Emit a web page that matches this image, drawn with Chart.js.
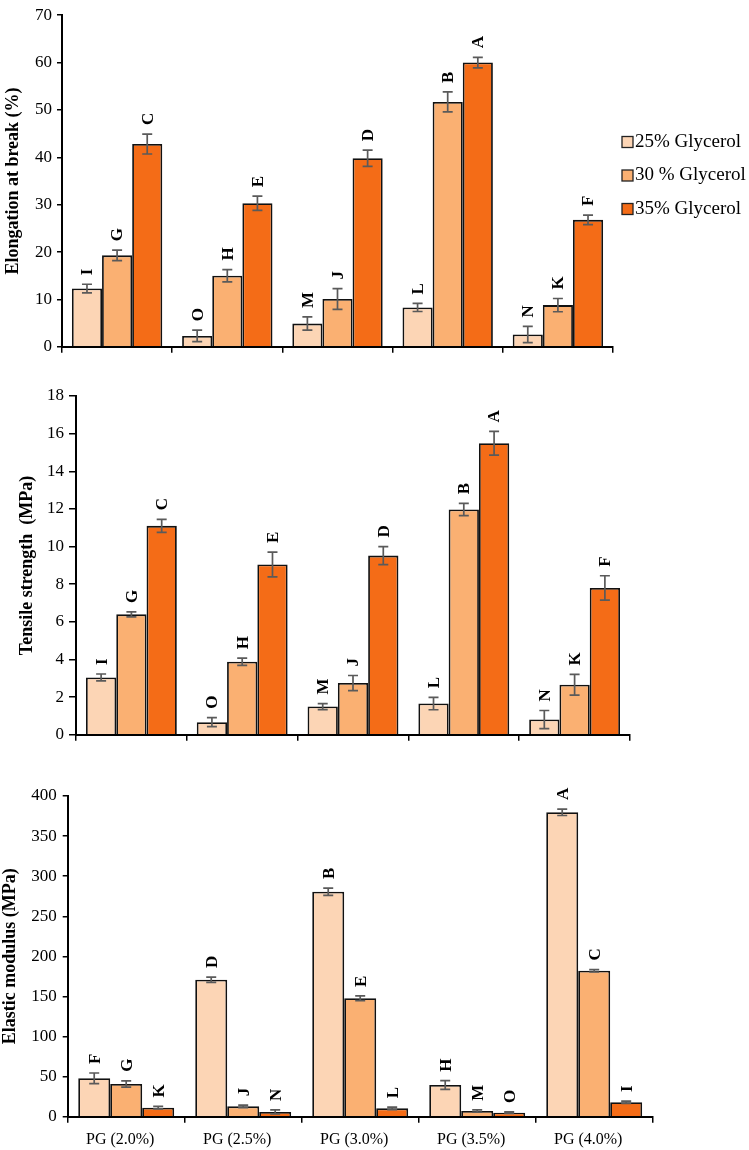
<!DOCTYPE html>
<html>
<head>
<meta charset="utf-8">
<script src="https://cdn.jsdelivr.net/npm/chart.js@4.4.1/dist/chart.umd.min.js"></script>
<style>
  body { margin: 0; background: #fff; }
  #wrap { position: relative; width: 749px; height: 1150px; }
  canvas { position: absolute; left: 0; }
</style>
</head>
<body>
<div id="wrap">
  <canvas id="grafico-elongacao" width="749" height="362" style="top:0"></canvas>
  <canvas id="grafico-tensao" width="749" height="390" style="top:360px"></canvas>
  <canvas id="grafico-modulo" width="749" height="400" style="top:750px"></canvas>
</div>
<script>
const categorias = ['PG (2.0%)', 'PG (2.5%)', 'PG (3.0%)', 'PG (3.5%)', 'PG (4.0%)'];
const series = ['25% Glycerol', '30 % Glycerol', '35% Glycerol'];
const cores = ['#FCD5B5', '#FAB072', '#F46C17'];

// Elongation at break (%)
const elong25 = [12.3, 2.3, 4.9, 8.3, 2.6];
const elong30 = [19.3, 15.0, 10.1, 51.7, 8.8];
const elong35 = [42.8, 30.3, 39.8, 60.0, 26.8];
const elongErr25 = [0.9, 1.2, 1.4, 0.85, 1.7];
const elongErr30 = [1.1, 1.3, 2.2, 2.1, 1.4];
const elongErr35 = [2.1, 1.5, 1.7, 1.1, 1.0];
const elongLetras25 = ['I', 'O', 'M', 'L', 'N'];
const elongLetras30 = ['G', 'H', 'J', 'B', 'K'];
const elongLetras35 = ['C', 'E', 'D', 'A', 'F'];

// Tensile strength (MPa)
const tensao25 = [3.05, 0.67, 1.5, 1.66, 0.81];
const tensao30 = [6.4, 3.88, 2.75, 11.97, 2.66];
const tensao35 = [11.1, 9.05, 9.52, 15.49, 7.8];
const tensaoErr25 = [0.18, 0.24, 0.16, 0.33, 0.48];
const tensaoErr30 = [0.13, 0.19, 0.4, 0.33, 0.55];
const tensaoErr35 = [0.35, 0.66, 0.48, 0.63, 0.65];
const tensaoLetras25 = ['I', 'O', 'M', 'L', 'N'];
const tensaoLetras30 = ['G', 'H', 'J', 'B', 'K'];
const tensaoLetras35 = ['C', 'E', 'D', 'A', 'F'];

// Elastic modulus (MPa)
const modulo25 = [47.9, 170.9, 280.6, 39.5, 379.7];
const modulo30 = [40.8, 12.9, 147.7, 7.1, 182];
const modulo35 = [11.3, 5.9, 10.4, 5.0, 18];
const moduloErr25 = [6.6, 3.3, 4.6, 5.4, 4];
const moduloErr30 = [4, 1.5, 3, 1.5, 1.5];
const moduloErr35 = [1.5, 2.5, 1.5, 1, 1.5];
const moduloLetras25 = ['F', 'D', 'B', 'H', 'A'];
const moduloLetras30 = ['G', 'J', 'E', 'M', 'C'];
const moduloLetras35 = ['K', 'N', 'L', 'O', 'I'];

const fonte = '"Liberation Serif", "Times New Roman", serif';
Chart.defaults.font.family = fonte;
Chart.defaults.color = '#000';

// barras de erro + letras giradas
const pluginErros = {
    id: 'erros',
    afterDatasetsDraw(chart) {
        const ctx = chart.ctx;
        const y = chart.scales.y;
        chart.data.datasets.forEach((ds, i) => {
            chart.getDatasetMeta(i).data.forEach((barra, j) => {
                const topo = y.getPixelForValue(ds.data[j] + ds.erros[j]);
                const base = y.getPixelForValue(ds.data[j] - ds.erros[j]);
                ctx.save();
                ctx.strokeStyle = '#5a5a5a';
                ctx.lineWidth = 1.7;
                ctx.beginPath();
                ctx.moveTo(barra.x, topo); ctx.lineTo(barra.x, base);
                ctx.moveTo(barra.x - 5, topo); ctx.lineTo(barra.x + 5, topo);
                ctx.moveTo(barra.x - 5, base); ctx.lineTo(barra.x + 5, base);
                ctx.stroke();
                ctx.translate(barra.x + 1, topo - 9);
                ctx.rotate(-Math.PI / 2);
                ctx.font = 'bold 17px ' + fonte;
                ctx.fillStyle = '#000';
                ctx.textAlign = 'left';
                ctx.textBaseline = 'middle';
                ctx.fillText(ds.letras[j], 0, 0);
                ctx.restore();
            });
        });
    }
};

const pluginLegenda = {
    id: 'legendaLateral',
    afterDraw(chart, args, opts) {
        if (!opts.mostrar) return;
        const ctx = chart.ctx;
        ctx.save();
        ctx.font = '19px ' + fonte;
        ctx.textBaseline = 'middle';
        chart.data.datasets.forEach((ds, i) => {
            const yc = opts.topo + i * opts.espaco;
            ctx.fillStyle = ds.backgroundColor;
            ctx.fillRect(opts.esquerda, yc - 5.5, 11, 11);
            ctx.strokeStyle = '#222';
            ctx.lineWidth = 1.3;
            ctx.strokeRect(opts.esquerda, yc - 5.5, 11, 11);
            ctx.fillStyle = '#000';
            ctx.fillText(ds.label, opts.esquerda + 13, yc);
        });
        ctx.restore();
    }
};

function gerarDatasets(valores, erros, letras) {
    return series.map((nome, i) => ({
        label: nome,
        data: valores[i],
        erros: erros[i],
        letras: letras[i],
        backgroundColor: cores[i],
        borderColor: '#111',
        borderWidth: 1.8,
        categoryPercentage: 0.82,
        barPercentage: 1.0
    }));
}

function criarGrafico(id, cfg) {
    return new Chart(document.getElementById(id), {
        type: 'bar',
        data: {
            labels: categorias,
            datasets: gerarDatasets(cfg.valores, cfg.erros, cfg.letras)
        },
        options: {
            responsive: false,
            animation: false,
            layout: { padding: { left: 0, right: cfg.direita, top: cfg.topo, bottom: 0 } },
            plugins: {
                legend: { display: false },
                tooltip: { enabled: false },
                legendaLateral: { mostrar: !!cfg.legenda, esquerda: 622, topo: 142, espaco: 33.5 }
            },
            scales: {
                x: {
                    grid: { display: true, offset: true, drawOnChartArea: false, color: '#000', lineWidth: 1.5, tickLength: 6 },
                    border: { color: '#000', width: 2 },
                    ticks: { display: cfg.rotulosX, font: { size: 16 }, padding: 7, maxRotation: 0, labelOffset: -6 },
                    afterFit: (s) => { s.height = cfg.alturaX; }
                },
                y: {
                    min: 0,
                    max: cfg.max,
                    grid: { drawOnChartArea: false, color: '#000', lineWidth: 1.5, tickLength: cfg.tickY },
                    border: { color: '#000', width: 2 },
                    ticks: { stepSize: cfg.passo, font: { size: 17 }, padding: cfg.padY },
                    title: {
                        display: true,
                        text: cfg.titulo,
                        font: { size: 18, weight: 'bold' },
                        padding: { top: cfg.padTitulo, bottom: 0 }
                    },
                    afterFit: (s) => { s.width = cfg.larguraY; }
                }
            }
        },
        plugins: [pluginErros, pluginLegenda]
    });
}

criarGrafico('grafico-elongacao', {
    valores: [elong25, elong30, elong35],
    erros: [elongErr25, elongErr30, elongErr35],
    letras: [elongLetras25, elongLetras30, elongLetras35],
    titulo: 'Elongation at break (%)',
    max: 70, passo: 10,
    topo: 9.5, direita: 136, larguraY: 62, alturaX: 11.3,
    tickY: 5, padY: 5, padTitulo: 2.7,
    rotulosX: false, legenda: true
});

criarGrafico('grafico-tensao', {
    valores: [tensao25, tensao30, tensao35],
    erros: [tensaoErr25, tensaoErr30, tensaoErr35],
    letras: [tensaoLetras25, tensaoLetras30, tensaoLetras35],
    titulo: 'Tensile strength  (MPa)',
    max: 18, passo: 2,
    topo: 36, direita: 119, larguraY: 76, alturaX: 14,
    tickY: 7, padY: 5, padTitulo: 16.7,
    rotulosX: false, legenda: false
});

criarGrafico('grafico-modulo', {
    valores: [modulo25, modulo30, modulo35],
    erros: [moduloErr25, moduloErr30, moduloErr35],
    letras: [moduloLetras25, moduloLetras30, moduloLetras35],
    titulo: 'Elastic modulus (MPa)',
    max: 400, passo: 50,
    topo: 46, direita: 96.3, larguraY: 67.7, alturaX: 33.3,
    tickY: 5, padY: 6, padTitulo: 0,
    rotulosX: true, legenda: false
});
</script>
</body>
</html>
